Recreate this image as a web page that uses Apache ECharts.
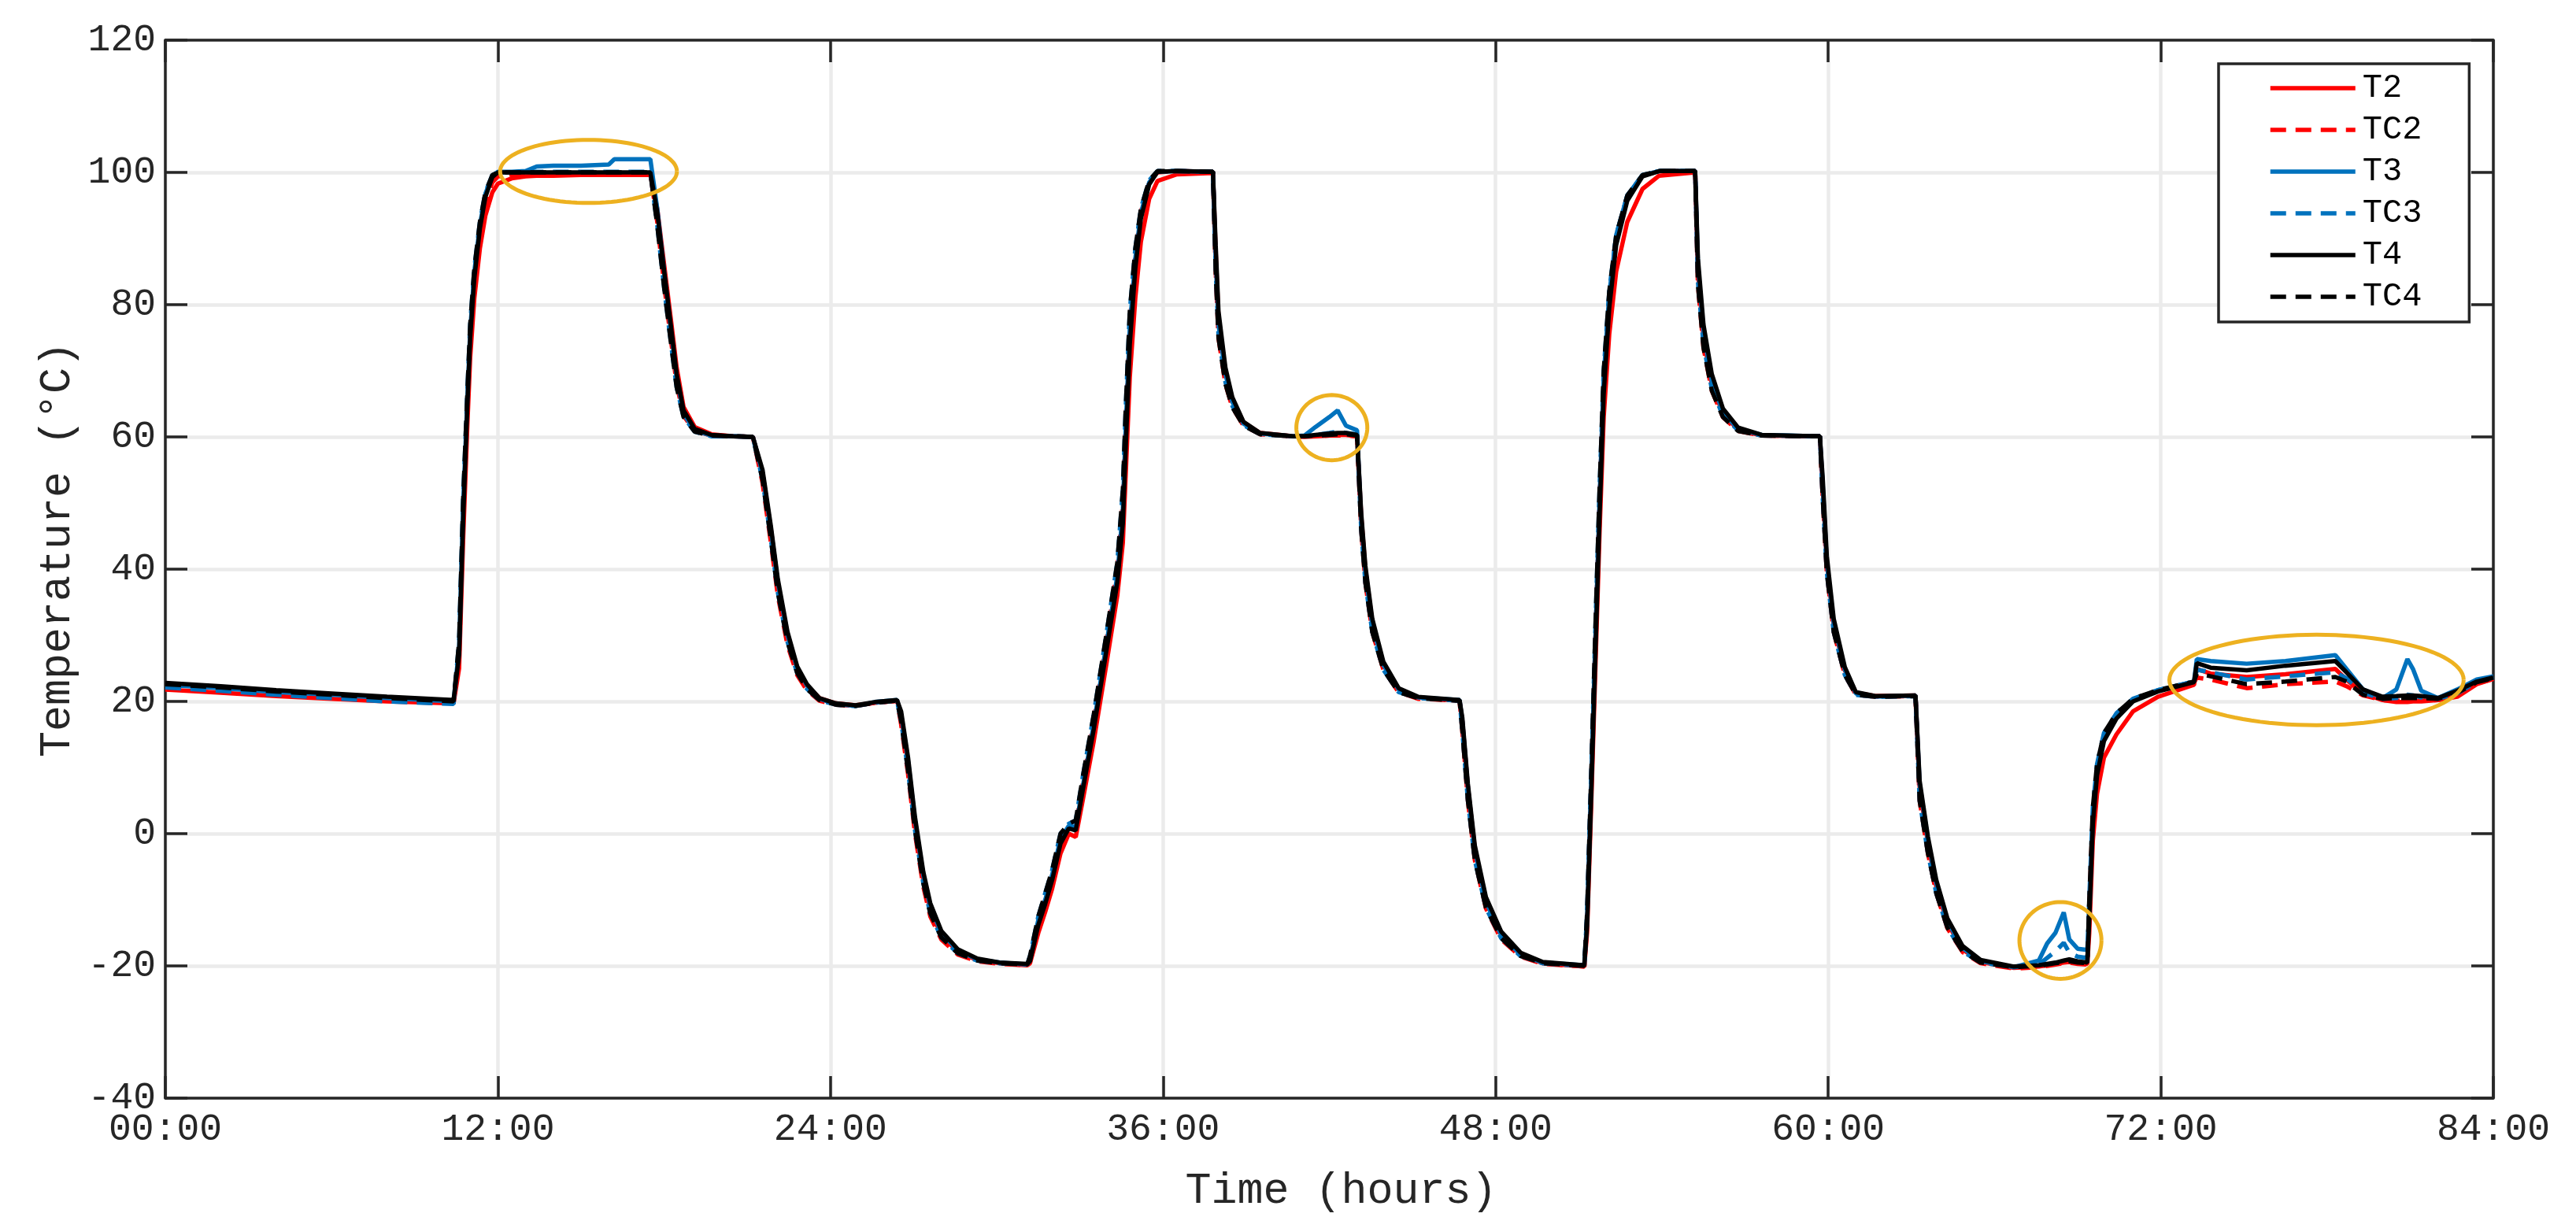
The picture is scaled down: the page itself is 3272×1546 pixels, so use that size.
<!DOCTYPE html>
<html>
<head>
<meta charset="utf-8">
<script src="https://cdn.jsdelivr.net/npm/echarts@6/dist/echarts.min.js"></script>
<style>html,body{margin:0;padding:0;background:#fff}#c{width:3272px;height:1546px}</style>
</head>
<body>
<div id="c"></div>
<script>
// time in hours since start
const hours = [
  0, 2, 4, 6, 8, 10.4,
  10.6, 10.75, 10.9, 11.0, 11.15, 11.35, 11.55, 11.8, 12.0, 12.5, 13.0, 13.4, 14, 15, 16, 16.2, 17, 17.5,
  17.75, 18.0, 18.25, 18.45, 18.7, 19.1, 19.7, 20.5, 21.2,
  21.55, 21.85, 22.1, 22.45, 22.8, 23.15, 23.6, 24.2, 24.9, 25.6, 26.4,
  26.55, 26.8, 27.05, 27.35, 27.6, 28.0, 28.6, 29.3, 30.1, 31.1,
  31.2, 31.5, 31.75, 32.0, 32.3, 32.6, 32.85, 33.1, 33.5, 33.95, 34.35, 34.55, 34.65, 34.8, 35.0, 35.2, 35.5, 35.8, 36.5, 37.8,
  37.9, 38.0, 38.25, 38.5, 38.9, 39.5, 40.7, 41.1, 41.5, 42.0, 42.3, 42.6, 43.0,
  43.15, 43.3, 43.55, 43.95, 44.5, 45.2, 46.7,
  46.8, 47.0, 47.25, 47.65, 48.2, 48.9, 49.7, 51.2,
  51.3, 51.45, 51.6, 51.75, 51.9, 52.1, 52.35, 52.75, 53.3, 53.9, 55.2,
  55.3, 55.5, 55.8, 56.2, 56.75, 57.6, 59.7,
  59.8, 59.95, 60.2, 60.6, 61.0, 61.7, 63.15,
  63.3, 63.6, 63.9, 64.3, 64.85, 65.5, 66.7, 67.6, 67.9, 68.2, 68.5, 68.7, 69.0, 69.35,
  69.42, 69.55, 69.7, 69.95, 70.4, 71.0, 71.9, 73.2,
  73.3, 73.8, 75.1, 76.5, 78.3, 78.7, 79.3, 80.0, 80.5, 80.9, 81.1, 81.4, 82.0, 82.7, 83.4, 84
];

const T2 = [
  21.8, 21.3, 20.8, 20.4, 20.0, 19.7,
  25, 45, 62, 72, 81, 88.5, 93.5, 97, 98.3, 99.1, 99.4, 99.5, 99.5, 99.6, 99.6, 99.6, 99.6, 99.6,
  94.5, 86, 77.5, 70.5, 64.5, 61.5, 60.4, 60.1, 60,
  54.5, 46, 38, 30, 25, 22.4, 20.5, 19.7, 19.4, 19.8, 20.1,
  18, 10.5, 1.5, -6.8, -11.5, -15.3, -17.9, -19.1, -19.6, -19.9,
  -19.6, -15, -11.8, -8.3, -3, 0, -0.5, 5, 14, 25.5, 36, 44, 54, 69, 81, 89.5, 96, 98.7, 99.7, 99.9,
  88, 78, 70, 65.7, 62.2, 60.6, 60.1, 60.1, 60.1, 60.2, 60.3, 60.3, 60.1,
  48, 40, 32, 25.7, 21.9, 20.6, 20.1,
  17, 7, -2.3, -10.2, -15.3, -18.3, -19.6, -20.1,
  -15, 4.5, 25, 45.5, 63, 75.5, 85, 92.5, 97.5, 99.5, 100,
  85, 75, 68, 63.5, 61.1, 60.2, 60.1,
  52.5, 41, 31.5, 24.7, 21.3, 20.8, 20.9,
  7, -1.5, -8, -13.5, -17.5, -19.4, -20.3, -20.1, -19.9, -19.7, -19.5, -19.4, -19.6, -19.7,
  -15, -1, 6, 11.5, 15, 18.5, 20.7, 22.5,
  24.9, 24.2, 23.7, 24.1, 24.9, 23.3, 21.2, 20.2, 19.9, 19.9, 20.0, 20.0, 20.2, 20.7, 22.6, 23.4
];

const TC2 = [
  22.1, 21.6, 21.1, 20.6, 20.2, 19.8,
  27, 48, 64.5, 74.5, 83, 90.5, 95.5, 98.5, 99.4, 99.7, 99.8, 99.8, 99.8, 99.9, 99.9, 99.9, 99.9, 99.9,
  92.5, 83, 74.5, 68, 63.2, 60.9, 60.2, 60.1, 60,
  53, 44, 36, 28.5, 24, 21.7, 20.1, 19.5, 19.3, 19.8, 20.1,
  16.5, 9, 0, -8, -12.5, -16, -18.3, -19.3, -19.7, -19.9,
  -19, -13.5, -10, -6.5, -1, 1, 1.2, 7.5, 17, 29, 40, 50, 62, 77, 87.5, 94, 98.5, 100, 100.2, 100.1,
  85, 75, 68, 64.5, 61.7, 60.4, 60.1, 60, 60.1, 60.2, 60.2, 60.2, 60.1,
  46, 38, 30.5, 24.8, 21.4, 20.4, 20.1,
  15.5, 5, -4, -11.3, -16, -18.6, -19.7, -20.1,
  -13, 8, 29.5, 50.5, 68.5, 81, 90, 96.2, 99.5, 100.2, 100.2,
  83, 73.5, 67, 63, 60.9, 60.2, 60.1,
  51, 39.5, 30.5, 24, 21, 20.7, 20.8,
  5, -3, -9, -14.3, -17.9, -19.6, -20.4, -20.2, -20, -19.8, -19.6, -19.5, -19.7, -19.8,
  -11, 3, 9.5, 14.5, 17.8, 20.2, 21.6, 22.9,
  23.6, 23.3, 22.0, 22.6, 23.0, 22.3, 20.9, 20.2, 20.1, 20.1, 20.1, 20.1, 20.2, 20.8, 22.7, 23.4
];

const T3 = [
  22.5, 22.0, 21.4, 21.0, 20.5, 20.0,
  28, 50, 66, 76, 85, 92, 96.8, 99.5, 100.1, 100.1, 100.2, 100.9, 101, 101, 101.2, 102, 102, 102,
  94.5, 85, 76, 69, 63.5, 61, 60.2, 60.1, 60,
  54.5, 46, 38, 30, 25, 22.4, 20.4, 19.6, 19.3, 19.9, 20.2,
  18, 11, 2, -6.3, -11, -15, -17.7, -19, -19.5, -19.8,
  -19, -13, -10, -6.2, -0.8, 1.2, 1, 7, 16.5, 28.5, 39, 49, 61, 76.5, 87, 93.8, 98.5, 100.1, 100.2, 100.1,
  87, 77, 69.5, 65.3, 62, 60.5, 60.1, 60.2, 61.5, 63, 64, 61.7, 61,
  47.5, 39.5, 31.5, 25.5, 21.8, 20.6, 20.2,
  17, 7, -2.5, -10.3, -15.3, -18.3, -19.5, -19.9,
  -13, 8, 29.5, 50.5, 69, 81.5, 90.5, 96.5, 99.6, 100.2, 100.2,
  86, 76, 68.5, 63.7, 61.2, 60.3, 60.1,
  53, 41, 31.8, 24.8, 21.2, 20.7, 20.9,
  7.5, -1, -7.5, -13.2, -17.3, -19.3, -20.2, -19.2, -16.6, -15, -11.9, -16, -17.4, -17.6,
  -12, 2.5, 9.5, 14.8, 18, 20.3, 21.7, 23,
  26.4, 26.1, 25.7, 26.1, 27.0, 24.9, 21.8, 20.5, 21.8, 26.4, 24.9, 21.6, 20.5, 21.8, 23.3, 23.8
];

const TC3 = [
  22.1, 21.6, 21.0, 20.5, 20.0, 19.6,
  29, 51, 67, 77, 85.5, 92.5, 97, 99.6, 100, 100, 100.1, 100.1, 100.1, 100.1, 100.1, 100.1, 100.1, 100.1,
  92, 82.5, 74, 67.5, 63, 60.8, 60.1, 60.1, 60,
  53.5, 44.5, 36.5, 29, 24.3, 21.9, 20.2, 19.5, 19.3, 19.8, 20.1,
  17, 9.5, 0.5, -7.5, -12, -15.7, -18.1, -19.2, -19.6, -19.8,
  -18.5, -12.5, -9, -5.5, 0, 1.5, 2, 8.5, 18, 30, 41, 52, 64, 79, 88.5, 94.5, 98.8, 100.2, 100.2, 100.1,
  85.5, 75.5, 68.3, 64.7, 61.8, 60.4, 60.1, 60.1, 60.3, 60.6, 60.8, 60.6, 60.4,
  46, 38, 30.5, 24.8, 21.4, 20.5, 20.1,
  15.5, 5, -4, -11.2, -15.8, -18.5, -19.6, -20,
  -12, 9, 31, 52, 70, 82, 90.5, 96.5, 99.6, 100.2, 100.2,
  83.5, 74, 67.3, 63.2, 61, 60.2, 60.1,
  51, 39.5, 30.5, 24, 21, 20.7, 20.8,
  5, -3, -9, -14.2, -17.8, -19.5, -20.2, -19.8, -18.8, -17.8, -16.5, -18, -18.6, -18.8,
  -10, 4, 10.5, 15.2, 18.2, 20.4, 21.7, 23,
  24.8, 24.4, 23.3, 23.8, 24.4, 23.5, 21.3, 20.4, 20.5, 21.0, 20.9, 20.6, 20.4, 21.2, 23.0, 23.6
];

const T4 = [
  22.8, 22.3, 21.7, 21.2, 20.7, 20.2,
  27, 48, 65, 75, 84, 91.5, 96.3, 99.3, 100, 100, 100, 100, 100, 100, 100, 100, 100, 100,
  94, 85, 76.5, 69.5, 64, 61.2, 60.3, 60.1, 60,
  55, 46.5, 38.5, 30.5, 25.3, 22.6, 20.5, 19.7, 19.4, 19.9, 20.2,
  18.5, 11.5, 2.5, -5.8, -10.5, -14.7, -17.5, -18.9, -19.5, -19.7,
  -19.3, -13.8, -10.6, -7, -1.5, 0.8, 0.5, 6.5, 15.8, 27.5, 38, 47, 58, 74, 85.5, 93, 98.2, 100.1, 100.2, 100.1,
  89, 79, 70.5, 66, 62.3, 60.6, 60.1, 60.1, 60.3, 60.5, 60.6, 60.6, 60.3,
  48.5, 40.5, 32.5, 26, 22, 20.7, 20.2,
  17.5, 7.5, -1.8, -9.6, -14.8, -18, -19.4, -19.9,
  -14, 6, 27, 48, 66.5, 79.5, 89, 95.7, 99.4, 100.2, 100.2,
  87, 77, 69.5, 64.3, 61.4, 60.3, 60.1,
  54, 42, 32.5, 25.2, 21.4, 20.8, 20.9,
  8, -0.5, -7, -12.8, -17, -19.1, -20.1, -19.9, -19.7, -19.5, -19.2, -19.0, -19.3, -19.5,
  -13, 1.5, 8.8, 14, 17.4, 20, 21.5, 22.9,
  25.8, 25.1, 24.7, 25.4, 26.1, 24.4, 21.8, 20.7, 20.8, 20.9, 20.9, 20.8, 20.5, 21.6, 23.0, 23.6
];

const TC4 = [
  22.6, 22.1, 21.5, 21.0, 20.5, 20.0,
  29, 51, 67, 77, 85.5, 92.5, 97, 99.6, 100, 100, 100, 100, 100, 100, 100, 100, 100, 100,
  92, 82.5, 74, 67.5, 63, 60.8, 60.2, 60.1, 60,
  53.5, 44.5, 36.5, 29, 24.3, 21.9, 20.2, 19.5, 19.3, 19.8, 20.1,
  17, 9.5, 0.5, -7.5, -12, -15.7, -18.1, -19.2, -19.6, -19.8,
  -18.5, -12.5, -9, -5.5, 0, 1.5, 2, 8.5, 18, 30, 41, 52, 64, 79, 88.5, 94.5, 98.8, 100.2, 100.2, 100.1,
  85, 75, 68, 64.5, 61.7, 60.4, 60.1, 60.1, 60.2, 60.3, 60.4, 60.4, 60.2,
  46, 38, 30.5, 24.8, 21.4, 20.5, 20.1,
  15.5, 5, -4, -11.2, -15.8, -18.5, -19.6, -20,
  -12, 9, 31, 52, 70, 82, 90.5, 96.5, 99.6, 100.2, 100.2,
  83, 73.5, 67, 63, 60.9, 60.2, 60.1,
  51, 39.5, 30.5, 24, 21, 20.7, 20.8,
  5, -3, -9, -14.2, -17.8, -19.5, -20.2, -20, -19.8, -19.6, -19.4, -19.3, -19.5, -19.6,
  -10, 4, 10.5, 15.2, 18.2, 20.4, 21.7, 23,
  24.2, 23.8, 22.6, 23.0, 23.7, 23.0, 21.0, 20.4, 20.5, 20.5, 20.5, 20.5, 20.4, 21.3, 22.9, 23.5
];

const seriesNames = ['T2', 'TC2', 'T3', 'TC3', 'T4', 'TC4'];
const xTickLabels = ['00:00', '12:00', '24:00', '36:00', '48:00', '60:00', '72:00', '84:00'];
// highlight ellipses: [centre hour, centre °C, half-width hours, half-height °C]
const ellipses = [
  [15.27, 100.15, 3.19, 4.77],
  [42.09, 61.4, 1.28, 4.93],
  [68.38, -16.15, 1.48, 5.8],
  [77.62, 23.24, 5.31, 6.84]
];

const FONT = "'Liberation Mono', 'Courier New', monospace";
const AX = '#262626';
const LW = 5.5;
const colors = { T2: '#ff0000', TC2: '#ff0000', T3: '#0072bd', TC3: '#0072bd', T4: '#000000', TC4: '#000000' };
const values = { T2, TC2, T3, TC3, T4, TC4 };

const chart = echarts.init(document.getElementById('c'), null, { renderer: 'canvas' });

const lineSeries = seriesNames.map(n => ({
  name: n,
  type: 'line',
  data: hours.map((h, i) => [h, values[n][i]]),
  symbol: 'none',
  showSymbol: false,
  smooth: false,
  animation: false,
  itemStyle: { color: colors[n] },
  lineStyle: { color: colors[n], width: LW, type: n.startsWith('TC') ? [20, 12] : 'solid' }
}));

const ellipseSeries = {
  type: 'custom',
  silent: true,
  animation: false,
  data: ellipses,
  encode: { x: 0, y: 1 },
  z: 5,
  renderItem: (params, api) => {
    const c = api.coord([api.value(0), api.value(1)]);
    const s = api.size([api.value(2), api.value(3)]);
    const pts = [];
    for (let k = 0; k <= 96; k++) {
      const a = k / 96 * Math.PI * 2;
      pts.push([c[0] + s[0] * Math.cos(a), c[1] + s[1] * Math.sin(a)]);
    }
    return { type: 'polyline', shape: { points: pts }, style: { fill: 'none', stroke: '#EDB120', lineWidth: 5 } };
  }
};

const axisLine = { show: true, onZero: false, lineStyle: { color: AX, width: 3.5 } };
const axisTick = { show: true, inside: true, length: 28, lineStyle: { color: AX, width: 3.5 } };

chart.setOption({
  backgroundColor: '#ffffff',
  animation: false,
  grid: { left: 210, right: 105, top: 51, bottom: 147, containLabel: false },
  legend: {
    data: seriesNames,
    orient: 'vertical',
    left: 2818,
    top: 81,
    padding: [10, 60, 11, 63],
    itemWidth: 108,
    itemHeight: 40,
    itemGap: 11,
    backgroundColor: '#ffffff',
    borderColor: AX,
    borderWidth: 3.5,
    itemStyle: { color: 'rgba(0,0,0,0)', borderColor: 'rgba(0,0,0,0)', borderWidth: 0, opacity: 0 },
    lineStyle: { width: LW },
    textStyle: { fontFamily: FONT, fontSize: 42, color: '#000', lineHeight: 40, padding: [0, 0, 0, 4] }
  },
  xAxis: [
    {
      type: 'value', min: 0, max: 84, interval: 12, position: 'bottom',
      axisLine, axisTick,
      axisLabel: {
        formatter: v => xTickLabels[Math.round(v / 12)],
        fontFamily: FONT, fontSize: 48, color: AX, margin: 16, lineHeight: 48
      },
      splitLine: { show: true, lineStyle: { color: '#ebebeb', width: 4.5 } },
      name: 'Time (hours)', nameLocation: 'middle', nameGap: 91,
      nameTextStyle: { fontFamily: FONT, fontSize: 55, color: AX, lineHeight: 55, padding: [0, 0, 0, 30] }
    },
    {
      type: 'value', min: 0, max: 84, interval: 12, position: 'top',
      axisLine, axisTick, axisLabel: { show: false }, splitLine: { show: false }
    }
  ],
  yAxis: [
    {
      type: 'value', min: -40, max: 120, interval: 20, position: 'left',
      axisLine, axisTick,
      axisLabel: { fontFamily: FONT, fontSize: 48, color: AX, margin: 12 },
      splitLine: { show: true, lineStyle: { color: '#ebebeb', width: 4.5 } },
      name: 'Temperature (°C)', nameLocation: 'middle', nameGap: 107,
      nameTextStyle: { fontFamily: FONT, fontSize: 55, color: AX, lineHeight: 55, padding: [0, 0, 0, 50] }
    },
    {
      type: 'value', min: -40, max: 120, interval: 20, position: 'right',
      axisLine, axisTick, axisLabel: { show: false }, splitLine: { show: false }
    }
  ],
  series: lineSeries.concat([ellipseSeries])
});
</script>
</body>
</html>
